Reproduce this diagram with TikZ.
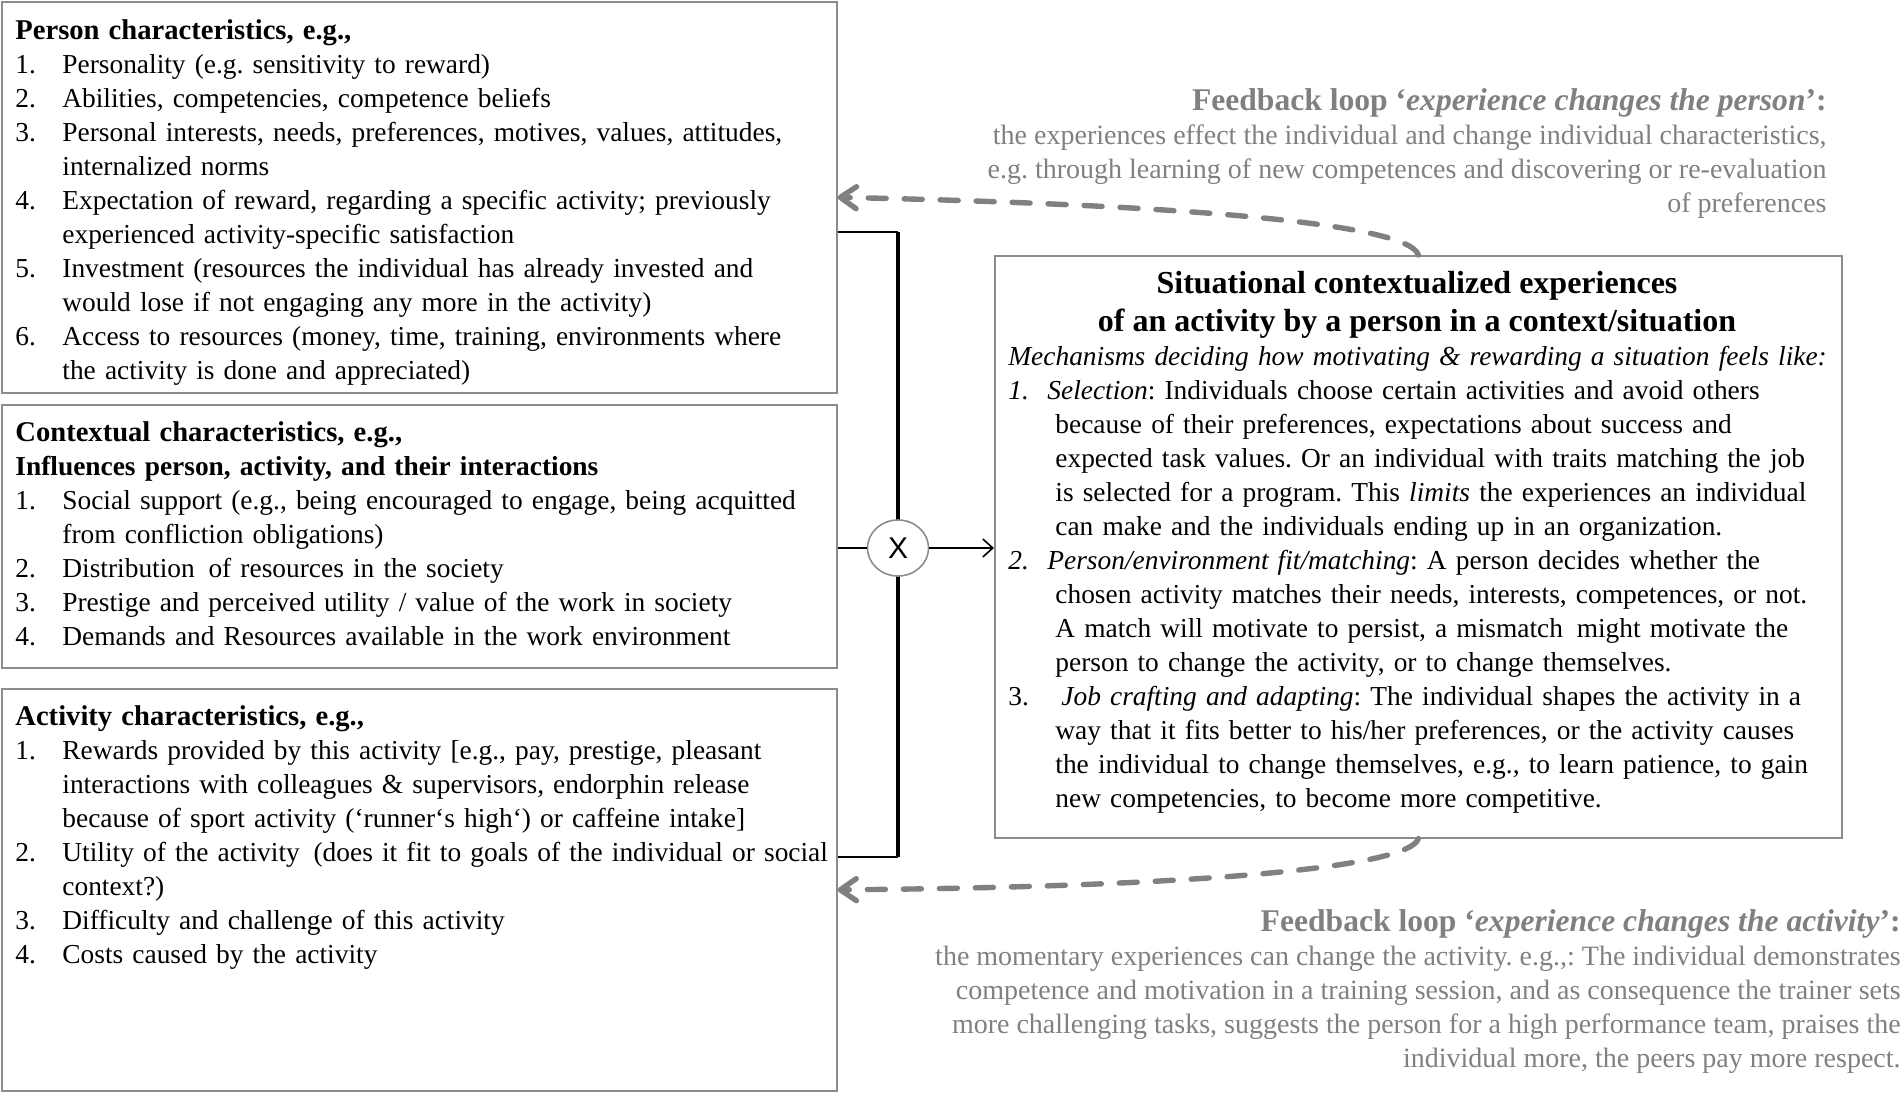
\documentclass[tikz,border=0pt]{standalone}
\usepackage{fontspec}
\setmainfont{Liberation Serif}
\newfontfamily\xsans{Liberation Sans}
\usepackage{xcolor}
\usetikzlibrary{arrows.meta, positioning, shapes.geometric, calc}

\definecolor{fbgray}{RGB}{128,128,128}
\definecolor{boxgray}{RGB}{140,140,140}

\newcommand\bodyfont{\fontsize{13.7}{17}\selectfont\frenchspacing}
\newcommand\fbfont{\fontsize{14}{17}\selectfont\frenchspacing}
\newcommand\headfont{\fontsize{16}{19}\selectfont\bfseries}
\newcommand\boxhead[1]{{\bfseries\fontsize{14.3}{17}\selectfont #1}}
\newcommand\fbhead[1]{{\bfseries\fontsize{15.8}{17}\selectfont #1}}
\newcommand\itm[3][23.5pt]{\par\noindent\hangindent=23.5pt\hangafter=1\makebox[#1][l]{#2}#3}

\begin{document}
\begin{tikzpicture}[
    x=0.5pt, y=0.5pt,
    every node/.style={font=\bodyfont},
    box/.style={draw=boxgray, line width=0.8pt, rectangle, anchor=north west, inner sep=0pt},
    txt/.style={anchor=north west, inner sep=0pt, text width=450pt},
    fbtext/.style={anchor=north east, inner sep=0pt, align=right, text=fbgray, font=\fbfont},
    feedback/.style={draw=fbgray, line width=2.7pt, line cap=round, dash pattern=on 9pt off 9pt, -{Straight Barb[length=8pt,width=11pt,round]}},
    linkline/.style={line width=1.3pt},
    spine/.style={line width=2pt}
]
    \useasboundingbox (0,0) rectangle (1904,-1092);

    % Boxes
    \node[box, minimum width=417.5pt, minimum height=195.5pt] (person) at (1,-1) {};
    \node[box, minimum width=417.5pt, minimum height=131.5pt] (context) at (1,-404) {};
    \node[box, minimum width=417.5pt, minimum height=201pt] (activity) at (1,-688) {};
    \node[box, minimum width=423.5pt, minimum height=291pt] (situation) at (994,-255) {};

    % Person characteristics
    \node[txt] (persontxt) at (15,-15) {\noindent\strut\boxhead{Person characteristics, e.g.,}
        \itm{1.}{Personality (e.g. sensitivity to reward)}
        \itm{2.}{Abilities, competencies, competence beliefs}
        \itm{3.}{Personal interests, needs, preferences, motives, values, attitudes,\newline internalized norms}
        \itm{4.}{Expectation of reward, regarding a specific activity; previously\newline experienced activity-specific satisfaction}
        \itm{5.}{Investment (resources the individual has already invested and\newline would lose if not engaging any more in the activity)}
        \itm{6.}{Access to resources (money, time, training, environments where\newline the activity is done and appreciated)}\par};

    % Contextual characteristics
    \node[txt] (contexttxt) at (15,-417) {\noindent\strut\boxhead{Contextual characteristics, e.g.,}\par
        \noindent\textbf{Influences person, activity, and their interactions}
        \itm{1.}{Social support (e.g., being encouraged to engage, being acquitted\newline from confliction obligations)}
        \itm{2.}{Distribution\ \,of resources in the society}
        \itm{3.}{Prestige and perceived utility / value of the work in society}
        \itm{4.}{Demands and Resources available in the work environment}\par};

    % Activity characteristics
    \node[txt] (activitytxt) at (15,-701) {\noindent\strut\boxhead{Activity characteristics, e.g.,}
        \itm{1.}{Rewards provided by this activity [e.g., pay, prestige, pleasant\newline interactions with colleagues \& supervisors, endorphin release\newline because of sport activity (‘runner‘s high‘) or caffeine intake]}
        \itm{2.}{Utility of the activity\ \,(does it fit to goals of the individual or social\newline context?)}
        \itm{3.}{Difficulty and challenge of this activity}
        \itm{4.}{Costs caused by the activity}\par};

    % Situational experiences
    \node[anchor=north, inner sep=0pt, align=center, font=\headfont] (sithead) at (1417,-266)
        {\strut Situational contextualized experiences\\ of an activity by a person in a context/situation};
    \node[txt] (sittxt) at (1008,-341) {\noindent\strut\textit{Mechanisms deciding how motivating \& rewarding a situation feels like:}
        \itm[19.5pt]{\textit{1.}}{\textit{Selection}: Individuals choose certain activities and avoid others\newline because of their preferences, expectations about success and\newline expected task values. Or an individual with traits matching the job\newline is selected for a program. This \textit{limits} the experiences an individual\newline can make and the individuals ending up in an organization.}
        \itm[19.5pt]{\textit{2.}}{\textit{Person/environment fit/matching}: A person decides whether the\newline chosen activity matches their needs, interests, competences, or not.\newline A match will motivate to persist, a mismatch\ \,might motivate the\newline person to change the activity, or to change themselves.}
        \itm[26.5pt]{3.}{\textit{Job crafting and adapting}: The individual shapes the activity in a\newline way that it fits better to his/her preferences, or the activity causes\newline the individual to change themselves, e.g., to learn patience, to gain\newline new competencies, to become more competitive.}\par};

    % Feedback texts
    \node[fbtext] (fbperson) at (1827,-86) {\strut\fbhead{Feedback loop ‘\textit{experience changes the person}’:}\\
        the experiences effect the individual and change individual characteristics,\\
        e.g. through learning of new competences and discovering or re-evaluation\\
        of preferences};
    \node[fbtext] (fbactivity) at (1901,-907) {\strut\fbhead{Feedback loop ‘\textit{experience changes the activity}’:}\\
        the momentary experiences can change the activity. e.g.,: The individual demonstrates\\
        competence and motivation in a training session, and as consequence the trainer sets\\
        more challenging tasks, suggests the person for a high performance team, praises the\\
        individual more, the peers pay more respect.};

    % Interaction bracket
    \coordinate (jtop) at (898,-232);
    \coordinate (jbot) at (898,-857);
    \draw[spine] (jtop) -- (jbot);
    \draw[linkline] (person.east |- jtop) -- (jtop);
    \draw[linkline] (activity.east |- jbot) -- (jbot);
    \node[draw=boxgray, fill=white, ellipse, minimum width=30.5pt, minimum height=28pt, inner sep=0pt, line width=0.8pt, font=\xsans\fontsize{15}{18}\selectfont] (mult) at (898,-548) {X};
    \draw[linkline] (context.east |- mult.west) -- (mult.west);
    \draw[line width=0.8pt, -{Straight Barb[length=5pt,width=9pt]}] (mult.east) -- (mult.east -| situation.west);

    % Feedback loops
    \draw[feedback] (situation.north) .. controls (1410,-225) and (1200,-205) .. (person.east);
    \draw[feedback] (situation.south) .. controls (1410,-867) and (1200,-887) .. (activity.east);
\end{tikzpicture}
\end{document}
